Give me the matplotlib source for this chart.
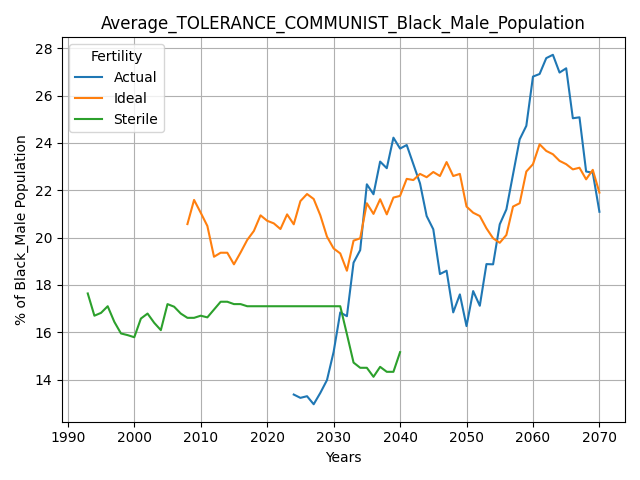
import matplotlib
matplotlib.use('Agg')
import matplotlib.pyplot as plt

# Years for each fertility group
actual_years = list(range(2024, 2071))
ideal_years = list(range(2008, 2071))
sterile_years = list(range(1993, 2041))

actual_values = [13.37, 13.23, 13.3, 12.96, 13.44, 13.98, 15.17, 16.84, 16.68, 18.94,
                 19.47, 22.25, 21.83, 23.21, 22.93, 24.22, 23.76, 23.91, 23.1, 22.29,
                 20.91, 20.35, 18.46, 18.6, 16.84, 17.6, 16.26, 17.74, 17.12, 18.88,
                 18.87, 20.56, 21.19, 22.67, 24.15, 24.72, 26.8, 26.91, 27.58, 27.72,
                 26.97, 27.15, 25.04, 25.08, 22.79, 22.74, 21.09]

ideal_values = [20.57, 21.59, 21.05, 20.49, 19.19, 19.36, 19.36, 18.87, 19.37, 19.9,
                20.28, 20.94, 20.71, 20.6, 20.36, 20.98, 20.56, 21.54, 21.84, 21.63,
                20.94, 20.04, 19.54, 19.33, 18.6, 19.87, 19.97, 21.45, 21.0, 21.62,
                20.98, 21.69, 21.76, 22.48, 22.43, 22.69, 22.55, 22.77, 22.6, 23.19,
                22.6, 22.69, 21.31, 21.05, 20.91, 20.39, 19.97, 19.78, 20.11, 21.31,
                21.45, 22.79, 23.1, 23.94, 23.66, 23.52, 23.24, 23.1, 22.88, 22.95,
                22.46, 22.86, 21.9]

sterile_values = [17.64, 16.7, 16.82, 17.1, 16.44, 15.95, 15.88, 15.79, 16.58, 16.79,
                  16.4, 16.09, 17.19, 17.08, 16.79, 16.61, 16.61, 16.7, 16.63, 16.96,
                  17.29, 17.29, 17.19, 17.19, 17.1, 17.1, 17.1, 17.1, 17.1, 17.1,
                  17.1, 17.1, 17.1, 17.1, 17.1, 17.1, 17.1, 17.1, 17.1, 15.92,
                  14.72, 14.5, 14.5, 14.12, 14.54, 14.33, 14.33, 15.16]

fig, ax = plt.subplots(figsize=(6.4, 4.8), dpi=100)

ax.plot(actual_years, actual_values, label='Actual')
ax.plot(ideal_years, ideal_values, label='Ideal')
ax.plot(sterile_years, sterile_values, label='Sterile')

ax.set_title('Average_TOLERANCE_COMMUNIST_Black_Male_Population')
ax.set_xlabel('Years')
ax.set_ylabel('% of Black_Male Population')
ax.grid(True)
ax.legend(title='Fertility', loc='upper left')

plt.tight_layout()
plt.savefig('out.png')
plt.close()
